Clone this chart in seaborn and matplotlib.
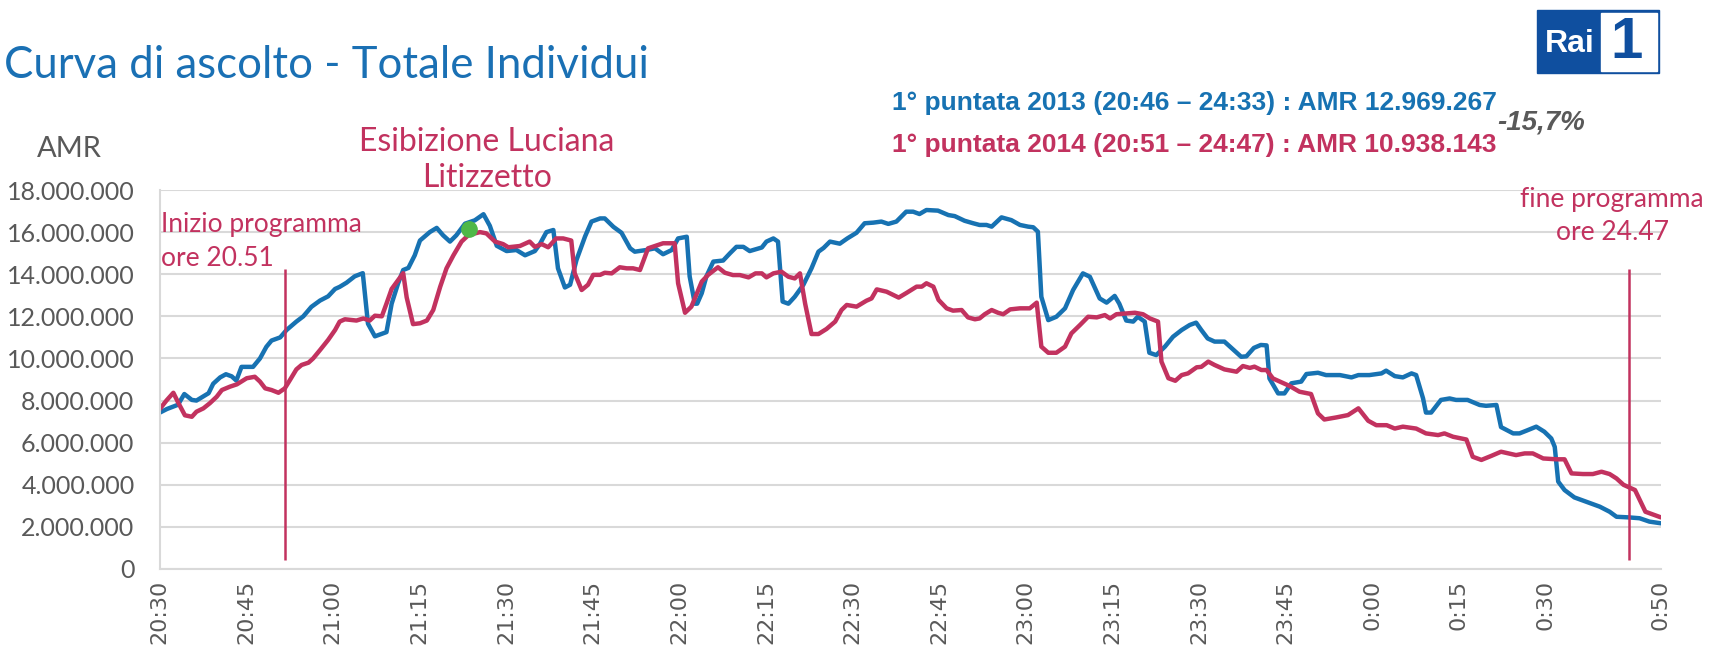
import matplotlib
matplotlib.use('Agg')
import matplotlib.pyplot as plt
from matplotlib import font_manager
from matplotlib.patches import Rectangle
from matplotlib.ticker import FixedLocator, FuncFormatter
import numpy as np
import pandas as pd
import seaborn as sns

# ---- data: minutes after 20:30, audience (millions) ----
t_2013 = [0, 1.3, 3.2, 4.3, 5.6, 6.4, 7.6, 8.5, 9.3, 10.5, 11.5, 12.5, 13.3, 14.2, 16.2, 17.4,
          18.5, 19.4, 20.9, 22.0, 23.7, 24.9, 26.3, 27.8, 29.2, 30.4, 31.2, 32.4, 33.8, 35.2,
          36.1, 37.3, 39.3, 40.2, 41.3, 42.2, 43.1, 44.2, 45.1, 46.8, 48.0, 49.1, 50.3, 51.4,
          52.9, 54.6, 56.1, 57.2, 58.4, 60.1, 61.8, 63.3, 65.0, 65.9, 67.0, 68.2, 69.0, 70.2,
          71.1, 72.2, 73.7, 74.8, 76.3, 77.1, 78.6, 80.0, 81.5, 82.3, 84.3, 85.8, 87.2, 88.7,
          89.8, 91.3, 91.8, 92.7, 93.1, 93.9, 94.7, 95.9, 97.6, 98.8, 99.9, 101.1, 102.2, 103.4,
          104.3, 105.1, 106.3, 107.1, 107.9, 108.9, 110.0, 111.5, 112.9, 114.1, 115.0, 116.1,
          117.8, 119.1, 120.7, 122.1, 123.6, 125.0, 126.2, 127.6, 129.3, 130.5, 131.6, 132.8,
          134.8, 136.6, 137.7, 139.4, 140.9, 142.0, 143.2, 144.1, 145.8, 147.5, 149.0, 150.4,
          151.3, 152.1, 152.7, 153.9, 155.3, 156.8, 158.2, 159.9, 161.1, 162.8, 164.0, 165.4,
          166.2, 167.4, 168.6, 169.4, 170.6, 171.4, 172.6, 174.1, 175.5, 177.0, 178.4, 179.5,
          180.4, 181.5, 182.7, 184.4, 185.9, 187.3, 188.2, 189.5, 190.7, 191.7, 192.2, 193.7,
          194.8, 196.0, 197.7, 198.6, 200.6, 202.0, 204.4, 206.4, 207.6, 209.5, 211.6, 212.4,
          213.9, 215.3, 216.8, 217.6, 218.8, 219.3, 220.2, 221.9, 223.4, 224.5, 226.5, 228.6,
          229.7, 231.5, 232.3, 234.4, 235.5, 236.7, 238.4, 239.8, 241.0, 241.6, 242.2, 243.3,
          245.0, 247.0, 249.4, 251.1, 252.3, 254.5, 256.3, 258.0, 260]
v_2013 = [7.42, 7.6, 7.8, 8.31, 8.03, 8.0, 8.2, 8.35, 8.8, 9.1, 9.25, 9.15, 8.95, 9.6, 9.6, 10.0,
          10.55, 10.85, 11.0, 11.35, 11.75, 12.0, 12.45, 12.75, 12.95, 13.3, 13.4, 13.6, 13.9, 14.05,
          11.65, 11.05, 11.25, 12.6, 13.55, 14.2, 14.3, 14.9, 15.6, 16.0, 16.2, 15.85, 15.55, 15.85,
          16.4, 16.56, 16.85, 16.3, 15.35, 15.1, 15.15, 14.9, 15.1, 15.45, 16.0, 16.1, 14.28, 13.37,
          13.5, 14.67, 15.8, 16.5, 16.65, 16.65, 16.25, 15.97, 15.23, 15.07, 15.15, 15.23, 14.95, 15.15,
          15.7, 15.78, 13.9, 12.6, 12.6, 13.1, 13.9, 14.6, 14.65, 15.0, 15.3, 15.3, 15.1, 15.2,
          15.27, 15.55, 15.7, 15.55, 12.7, 12.6, 12.93, 13.5, 14.28, 15.07, 15.25, 15.55,
          15.45, 15.7, 15.97, 16.42, 16.45, 16.5, 16.39, 16.5, 16.97, 16.97, 16.86, 17.05,
          17.02, 16.81, 16.76, 16.54, 16.42, 16.34, 16.34, 16.26, 16.7, 16.57, 16.34, 16.26,
          16.23, 16.02, 12.93, 11.82, 11.98, 12.38, 13.25, 14.04, 13.88, 12.85, 12.65, 12.97,
          12.6, 11.8, 11.75, 11.98, 11.75, 10.27, 10.16, 10.56, 11.03, 11.35, 11.59, 11.7,
          11.35, 10.95, 10.8, 10.8, 10.43, 10.08, 10.1, 10.5, 10.64, 10.62, 9.05, 8.34,
          8.34, 8.82, 8.9, 9.26, 9.32, 9.21, 9.21, 9.1, 9.21, 9.21, 9.29, 9.42,
          9.16, 9.1, 9.29, 9.21, 8.1, 7.43, 7.43, 8.03, 8.1, 8.03, 8.03, 7.79,
          7.75, 7.79, 6.74, 6.44, 6.44, 6.57, 6.76, 6.52, 6.2, 5.8, 4.15, 3.75,
          3.4, 3.2, 2.96, 2.72, 2.48, 2.45, 2.41, 2.25, 2.17]

t_2014 = [0, 1.2, 2.4, 3.3, 4.4, 5.6, 6.4, 7.6, 8.7, 9.9, 10.8, 12.2, 13.4, 15.1, 16.5, 17.4,
          18.3, 19.4, 20.6, 21.7, 22.6, 23.7, 24.6, 25.8, 26.6, 27.8, 29.2, 30.4, 31.2, 32.1,
          34.1, 35.3, 36.4, 37.3, 38.5, 39.3, 40.2, 42.2, 42.8, 43.9, 45.1, 46.3, 47.4, 48.6,
          49.7, 50.9, 52.3, 53.5, 55.5, 56.6, 58.1, 59.5, 60.4, 62.4, 64.1, 65.0, 66.2, 67.3,
          68.7, 69.9, 71.3, 71.9, 73.1, 74.2, 75.1, 76.3, 77.1, 78.3, 79.7, 80.9, 82.0, 83.2,
          84.6, 85.8, 87.2, 89.2, 89.8, 91.0, 92.1, 93.9, 95.0, 96.7, 97.9, 99.3, 100.5, 102.0,
          103.2, 104.3, 105.1, 106.3, 107.7, 108.9, 110.0, 110.9, 111.8, 112.9, 114.1, 115.5,
          117.0, 118.1, 119.0, 120.7, 122.4, 123.3, 124.2, 125.9, 128.0, 129.4, 131.1, 132.0,
          132.8, 134.0, 134.9, 136.3, 137.4, 138.9, 140.0, 141.2, 142.0, 142.9, 144.1, 145.2,
          146.1, 147.3, 149.0, 150.7, 151.9, 152.7, 153.9, 155.3, 156.8, 157.9, 159.4, 160.8,
          162.3, 163.7, 164.6, 165.7, 167.4, 168.9, 170.3, 171.5, 172.9, 173.5, 174.7, 175.9,
          177.0, 178.1, 179.6, 180.4, 181.6, 182.7, 184.4, 186.5, 187.6, 188.8, 189.6, 190.8,
          191.7, 192.8, 194.0, 195.7, 197.4, 199.4, 200.6, 201.7, 203.8, 205.8, 207.6, 209.3,
          210.7, 212.5, 213.9, 215.3, 217.6, 219.3, 221.4, 222.5, 224.0, 226.3, 227.4, 228.9,
          230.6, 232.3, 234.9, 236.4, 237.8, 239.6, 241.9, 243.3, 244.5, 246.5, 248.2, 249.7,
          251.1, 252.3, 253.5, 255.5, 257.3, 260]
v_2014 = [7.58, 8.0, 8.37, 7.87, 7.3, 7.23, 7.47, 7.63, 7.87, 8.18, 8.5, 8.66, 8.77, 9.06, 9.13, 8.9,
          8.58, 8.5, 8.37, 8.58, 8.98, 9.48, 9.69, 9.8, 10.0, 10.4, 10.88, 11.35, 11.75, 11.86,
          11.8, 11.9, 11.8, 12.03, 12.0, 12.6, 13.3, 14.05, 12.9, 11.63, 11.67, 11.8, 12.3, 13.4,
          14.28, 14.9, 15.55, 15.86, 16.0, 15.94, 15.55, 15.43, 15.28, 15.34, 15.55, 15.3, 15.43, 15.28,
          15.7, 15.7, 15.6, 14.04, 13.25, 13.5, 13.97, 13.97, 14.07, 14.04, 14.33, 14.28, 14.28, 14.2,
          15.23, 15.34, 15.47, 15.47, 13.57, 12.17, 12.46, 13.65, 13.97, 14.33, 14.07, 13.96, 13.96, 13.85,
          14.04, 14.04, 13.85, 14.04, 14.12, 13.88, 13.8, 14.04, 12.6, 11.16, 11.16, 11.4,
          11.75, 12.3, 12.54, 12.46, 12.74, 12.85, 13.28, 13.17, 12.89, 13.12, 13.41, 13.41,
          13.57, 13.41, 12.78, 12.38, 12.27, 12.3, 11.95, 11.86, 11.9, 12.1, 12.3, 12.17,
          12.1, 12.33, 12.38, 12.38, 12.65, 10.56, 10.27, 10.27, 10.56, 11.19, 11.59, 11.98,
          11.95, 12.06, 11.9, 12.1, 12.14, 12.17, 12.1, 11.9, 11.75, 9.85, 9.06, 8.94,
          9.21, 9.29, 9.58, 9.6, 9.85, 9.69, 9.48, 9.37, 9.64, 9.55, 9.61, 9.45,
          9.45, 9.05, 8.9, 8.69, 8.42, 8.31, 7.39, 7.1, 7.2, 7.31, 7.63, 7.04,
          6.83, 6.83, 6.67, 6.76, 6.67, 6.44, 6.36, 6.44, 6.28, 6.15, 5.33, 5.18,
          5.37, 5.57, 5.41, 5.49, 5.49, 5.25, 5.21, 5.21, 4.54, 4.51, 4.51, 4.62,
          4.51, 4.3, 4.0, 3.75, 2.72, 2.45]

peak_time = 53.6
peak_value = 16.13

tick_minutes = [0, 15, 30, 45, 60, 75, 90, 105, 120, 135, 150, 165, 180, 195, 210, 225, 240, 260]
tick_labels = ['20:30', '20:45', '21:00', '21:15', '21:30', '21:45', '22:00', '22:15', '22:30',
               '22:45', '23:00', '23:15', '23:30', '23:45', '0:00', '0:15', '0:30', '0:50']

BLUE = '#1772b2'; RED = '#c2325f'; GREY = '#595959'; GRID = '#d9d9d9'
TITLE = '#1a70b4'; GREEN = '#4fb848'; RAI = '#0f4f9f'

W, H = 1709, 649
def px(x, y):
    return x / W, 1 - y / H

sns.set_style('white')
names = {f.name for f in font_manager.fontManager.ttflist}
BODY = 'Lato' if 'Lato' in names else 'Open Sans'
NARROW = 'Liberation Sans Narrow' if 'Liberation Sans Narrow' in names else 'Liberation Sans'
plt.rcParams['font.family'] = [BODY, 'DejaVu Sans']

df = pd.concat([
    pd.DataFrame({'minuto': t_2013, 'AMR': np.array(v_2013) * 1e6, 'serie': '2013'}),
    pd.DataFrame({'minuto': t_2014, 'AMR': np.array(v_2014) * 1e6, 'serie': '2014'}),
], ignore_index=True)

fig = plt.figure(figsize=(W / 100, H / 100), dpi=100)
fig.patch.set_facecolor('white')
ax = fig.add_axes([159.5 / W, 1 - 569 / H, (1661 - 159.5) / W, (569 - 190) / H])

ax.yaxis.grid(True, color=GRID, lw=1.5)
ax.set_axisbelow(True)
sns.lineplot(data=df, x='minuto', y='AMR', hue='serie', palette={'2013': BLUE, '2014': RED},
             lw=3.2, ax=ax, legend=False, sort=False, estimator=None)
ax.plot([peak_time], [peak_value * 1e6], 'o', color=GREEN, ms=11, zorder=5)

# start / end programme markers
ax.vlines([21.8, 254.5], 0.43e6, 14.25e6, color=RED, lw=1.8, zorder=4)

ax.set_xlim(0, 260)
ax.set_ylim(0, 18e6)
ax.set_yticks(np.arange(0, 18.1e6, 2e6))
ax.yaxis.set_major_formatter(FuncFormatter(lambda v, p: f'{v:,.0f}'.replace(',', '.')))
ax.xaxis.set_major_locator(FixedLocator(tick_minutes))
ax.set_xticklabels(tick_labels, rotation=90, family='DejaVu Sans', fontsize=16, color=GREY)
ax.xaxis.set_minor_locator(FixedLocator(np.arange(0, 261, 1)))
ax.tick_params(axis='x', which='both', length=6, width=1, color=GRID, pad=2)
ax.tick_params(axis='y', length=6, width=1.5, color=GRID, pad=12, labelsize=18, labelcolor=GREY)
ax.set_xlabel(''); ax.set_ylabel('')
for sp in ['top', 'right']:
    ax.spines[sp].set_visible(False)
for sp in ['left', 'bottom']:
    ax.spines[sp].set_color(GRID); ax.spines[sp].set_linewidth(1.5)

# texts
fig.text(*px(4, 66), 'Curva di ascolto - Totale Individui', color=TITLE, fontsize=31.5, va='center', ha='left')
fig.text(*px(37, 149), 'AMR', color=GREY, fontsize=21, va='center', ha='left')
fig.text(*px(487, 142), 'Esibizione Luciana', color=RED, fontsize=23, va='center', ha='center')
fig.text(*px(487, 178), 'Litizzetto', color=RED, fontsize=23, va='center', ha='center')
fig.text(*px(161, 225), 'Inizio programma', color=RED, fontsize=19, va='center', ha='left')
fig.text(*px(161, 258), 'ore 20.51', color=RED, fontsize=19, va='center', ha='left')
fig.text(*px(1612, 200), 'fine programma', color=RED, fontsize=19, va='center', ha='center')
fig.text(*px(1612, 233), 'ore 24.47', color=RED, fontsize=19, va='center', ha='center')

fig.text(*px(892, 103), '1° puntata 2013 (20:46 – 24:33) : AMR 12.969.267', color=BLUE,
         fontsize=19, fontweight='bold', family=[NARROW, 'DejaVu Sans'], va='center', ha='left')
fig.text(*px(892, 145), '1° puntata 2014 (20:51 – 24:47) : AMR 10.938.143', color=RED,
         fontsize=19, fontweight='bold', family=[NARROW, 'DejaVu Sans'], va='center', ha='left')
fig.text(*px(1497, 123), '-15,7%', color=GREY, fontsize=20, fontweight='bold', style='italic',
         family=[NARROW, 'DejaVu Sans'], va='center', ha='left')

# Rai 1 logo
x0, y0 = px(1537, 73)
x1, y1 = px(1659, 10)
fig.patches.append(Rectangle((x0, y0), x1 - x0, y1 - y0, transform=fig.transFigure, color=RAI))
x0, y0 = px(1601, 71)
x1, y1 = px(1657, 13)
fig.patches.append(Rectangle((x0, y0), x1 - x0, y1 - y0, transform=fig.transFigure, color='white'))
fig.text(*px(1570, 44), 'Rai', color='white', fontsize=23, fontweight='bold',
         family='Liberation Sans', ha='center', va='center')
fig.text(*px(1627, 43), '1', color=RAI, fontsize=42, fontweight='bold',
         family='Liberation Sans', ha='center', va='center')

fig.savefig('out.png', dpi=100, facecolor='white')
